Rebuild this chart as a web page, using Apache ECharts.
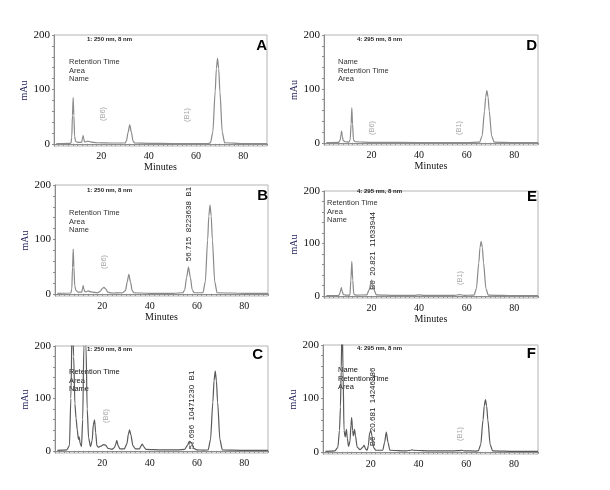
<!DOCTYPE html>
<html>
<head>
<meta charset="utf-8">
<script src="https://cdn.jsdelivr.net/npm/echarts@6/dist/echarts.min.js"></script>
<style>
  html, body { margin: 0; padding: 0; background: #fff; }
  #chart { width: 610px; height: 490px; }
</style>
</head>
<body>
<div id="chart"></div>
<script>
var chartDom = document.getElementById("chart");
var chart = echarts.init(chartDom, null, { renderer: "canvas" });

// tick labels
const xTickLabels = [20, 40, 60, 80];
const yTickLabels = [0, 100, 200];

// traces: [minutes, mAu]
const traceA = [[1,0.5],[6.8,1],[7.2,1.5],[7.5,12],[7.8,52],[8.1,85],[8.4,52],[8.7,14],[9.1,5],[9.8,3],[11.2,2.5],[11.7,3],[12,9],[12.3,15],[12.6,9],[12.9,4],[13.5,3.5],[14.3,5],[15.3,3.5],[18,2],[25,1.5],[29.2,1.5],[29.9,1.5],[30.6,5],[31.3,21],[32,35],[32.7,21],[33.4,5],[34.1,1.5],[40,1],[50,0.5],[65.2,0.5],[66.1,2],[67.1,21],[68.1,96],[68.6,138],[69.1,157],[69.6,138],[70.1,96],[71.1,21],[72.1,2],[80,0.5],[90,0.5]];
const traceB = [[1,1],[6.7,1.5],[7.1,8],[7.4,48],[7.7,82],[8,48],[8.35,14],[8.9,6],[9.8,3],[11.3,3],[11.6,9],[11.9,15],[12.2,9],[12.6,4],[13.2,3.5],[14,5.5],[15.2,3.5],[18,2],[19.2,5],[20,10],[20.7,12],[21.4,9],[22.3,3],[24,1.5],[28.5,2],[29.8,6],[30.5,22],[31.2,36],[31.9,22],[32.6,6],[33.3,2],[40,1],[50,1],[54,2],[54.8,7],[55.6,30],[56.4,49],[57.2,30],[58,7],[58.8,2],[61.5,2],[62.5,2],[63.5,22],[64.5,99],[65,143],[65.5,163],[66,143],[66.5,99],[67.5,22],[68.5,2],[80,1],[90,1]];
const traceC = [[1,1],[5,2],[6.1,10],[6.7,100],[7.3,260],[7.9,180],[8.4,90],[8.9,62],[9.4,40],[9.9,22],[10.2,27],[10.6,15],[11.2,8],[11.7,60],[12.2,200],[12.6,260],[13.1,200],[13.6,80],[14.2,25],[15,8],[15.7,20],[16.2,50],[16.7,59],[17.2,35],[17.7,10],[18.3,7],[19.3,9],[20.5,12],[21.4,11],[22.4,5],[24,3],[25.1,6],[25.6,12],[26.1,20],[26.7,10],[27.4,4],[29.3,4],[30.4,14],[31,32],[31.5,40],[32.1,30],[32.9,10],[34,4],[35.7,4],[36.3,9],[36.9,13],[37.5,8],[38.4,3],[45,2],[52,2],[54.8,3],[55.9,10],[56.8,18],[57.7,15],[58.6,5],[59.8,2],[63,1.5],[64.7,2],[65.7,21],[66.7,93],[67.2,134],[67.7,152],[68.2,134],[68.7,93],[69.7,21],[70.7,2],[80,1],[90,1]];
const traceD = [[1,0.5],[6.2,1],[6.8,5],[7.15,15],[7.4,22],[7.7,12],[8.1,4],[8.9,2],[10.4,1.5],[11,5],[11.4,35],[11.7,65],[12,35],[12.4,5],[13.1,2],[20,1],[40,0.5],[60,0.5],[65.5,1.5],[66.5,13],[67.5,59],[68,85],[68.5,97],[69,85],[69.5,59],[70.5,13],[71.5,1.5],[80,0.5],[90,0.5]];
const traceE = [[1,0.5],[6.2,1],[6.7,5],[7.05,12],[7.3,16],[7.6,9],[8.1,3],[9,1.5],[10.9,1.5],[11.3,30],[11.7,66],[12.1,30],[12.5,4],[13.3,1.5],[18,2],[19,12],[20,30],[21,12],[22,2],[30,1],[38,1],[40,2],[42,1],[55,1],[57,2.5],[59,1],[62.5,1.5],[63.1,1.5],[64.1,14],[65.1,63],[65.6,92],[66.1,104],[66.6,92],[67.1,63],[68.1,14],[69.1,1.5],[80,0.5],[90,0.5]];
const traceF = [[1,1],[5,2],[6.2,8],[6.9,40],[7.3,84],[7.6,150],[8,260],[8.4,150],[8.8,40],[9.3,28],[9.8,42],[10.2,25],[10.7,10],[11.3,20],[11.7,50],[12,64],[12.4,40],[12.7,30],[13.2,42],[13.6,30],[14.3,9],[15.5,4],[16.5,8],[17.2,12],[17.9,5],[18.5,3],[19,12],[19.5,35],[20,40],[20.5,30],[21.2,8],[22.1,3],[25,3],[25.8,18],[26.5,37],[27.2,18],[28,3],[35,2],[36.8,3],[37.3,4],[37.8,3],[45,2],[55,2],[57.5,2.5],[58,3],[59,2],[64,1.5],[65,2],[66,13],[67,60],[67.5,86],[68,98],[68.5,86],[69,60],[70,13],[71,2],[80,1],[90,1]];

// texts
const panelLetters = ["A", "B", "C", "D", "E", "F"];
const wavelengths = ["1: 250 nm, 8 nm", "1: 250 nm, 8 nm", "1: 250 nm, 8 nm", "4: 295 nm, 8 nm", "4: 295 nm, 8 nm", "4: 295 nm, 8 nm"];
const legendLinesRAN = ["Retention Time", "Area", "Name"];
const legendLinesNRA = ["Name", "Retention Time", "Area"];
const peakTagsB = ["(B6)", "56.715  8223638  B1"];
const peakTagsC = ["(B6)", "57.696  10471230  B1"];
const peakTagsE = ["B6  20.821  11633944", "(B1)"];
const peakTagsF = ["B6  20.681  14246886", "(B1)"];

// layout of the six panels (pixel positions)
var panels = [
  { data: traceA, left: 54, top: 35, width: 213, height: 111, dark: false, minutes: true,
    head: [87, 39], letter: [267, 46], legend: legendLinesRAN, legendPos: [69, 62],
    grey: [["(B6)", 103, 114], ["(B1)", 187, 115]], black: [] },
  { data: traceB, left: 55, top: 185, width: 213, height: 111, dark: false, minutes: true,
    head: [87, 190], letter: [268, 196], legend: legendLinesRAN, legendPos: [69, 213],
    grey: [[peakTagsB[0], 104, 262]], black: [[peakTagsB[1], 189, 224]] },
  { data: traceC, left: 55, top: 346, width: 213, height: 107, dark: true, minutes: false,
    head: [87, 349], letter: [263, 355], legend: legendLinesRAN, legendPos: [69, 372],
    grey: [[peakTagsC[0], 106, 416]], black: [[peakTagsC[1], 192, 410]] },
  { data: traceD, left: 324, top: 35, width: 214, height: 110, dark: false, minutes: true,
    head: [357, 39], letter: [537, 46], legend: legendLinesNRA, legendPos: [338, 62],
    grey: [["(B6)", 372, 128], ["(B1)", 459, 128]], black: [] },
  { data: traceE, left: 324, top: 191, width: 214, height: 107, dark: false, minutes: true,
    head: [357, 191], letter: [537, 197], legend: legendLinesRAN, legendPos: [327, 203],
    grey: [[peakTagsE[1], 460, 278]], black: [[peakTagsE[0], 373, 251]] },
  { data: traceF, left: 323, top: 345, width: 215, height: 109, dark: true, minutes: false,
    head: [357, 348], letter: [536, 354], legend: legendLinesNRA, legendPos: [338, 370],
    grey: [[peakTagsF[1], 460, 434]], black: [[peakTagsF[0], 373, 407]] },
];

var xMinorTicks = [];
for (let v = 0; v <= 90; v += 2) xMinorTicks.push(v);
var yMinorTicks = [];
for (let v = 0; v <= 200; v += 20) yMinorTicks.push(v);

var grids = [], xAxes = [], yAxes = [], series = [], graphics = [];

panels.forEach(function (p, i) {
  grids.push({
    left: p.left, top: p.top, width: p.width, height: p.height,
    show: true, borderColor: "#b4b4b4", borderWidth: 1,
  });
  xAxes.push({
    type: "value", gridIndex: i, min: 0, max: 90,
    axisLine: { lineStyle: { color: "#8c8c8c" } },
    axisTick: { customValues: xMinorTicks, length: 2, lineStyle: { color: "#8c8c8c" } },
    axisLabel: { customValues: xTickLabels, color: "#111", fontFamily: "Liberation Serif", fontSize: 10, margin: 5 },
    splitLine: { show: false },
    name: p.minutes ? "Minutes" : "",
    nameLocation: "middle", nameGap: 16,
    nameTextStyle: { color: "#111", fontFamily: "Liberation Serif", fontSize: 10 },
  });
  yAxes.push({
    type: "value", gridIndex: i, min: -4, max: 200,
    axisLine: { show: true, lineStyle: { color: "#8c8c8c" } },
    axisTick: { customValues: yMinorTicks, length: 2, lineStyle: { color: "#8c8c8c" } },
    axisLabel: { customValues: yTickLabels, color: "#111", fontFamily: "Liberation Serif", fontSize: 11, margin: 4 },
    splitLine: { show: false },
    name: "mAu", nameLocation: "middle", nameGap: 24,
    nameTextStyle: { color: "#1c1c55", fontFamily: "Liberation Serif", fontSize: 10 },
  });
  series.push({
    type: "line", xAxisIndex: i, yAxisIndex: i,
    data: p.data, showSymbol: false, smooth: 0.25, smoothMonotone: "x",
    lineStyle: { color: p.dark ? "#5a5a5a" : "#8a8a8a", width: 1.2 },
    clip: true,
  });

  // header texts
  graphics.push({
    type: "text", x: p.head[0], y: p.head[1],
    style: { text: wavelengths[i], fontSize: 6, fontWeight: "bold", fontFamily: "Liberation Sans", fill: "#222", verticalAlign: "middle" },
  });
  graphics.push({
    type: "text", x: p.letter[0], y: p.letter[1],
    style: { text: panelLetters[i], fontSize: 15, fontWeight: "bold", fontFamily: "Liberation Sans", fill: "#000", align: "right", verticalAlign: "middle" },
  });
  p.legend.forEach(function (line, k) {
    graphics.push({
      type: "text", x: p.legendPos[0], y: p.legendPos[1] + k * 8.7,
      style: { text: line, fontSize: 7.5, fontFamily: "Liberation Sans", fill: p.dark ? "#111" : "#333", verticalAlign: "middle" },
    });
  });
  p.grey.forEach(function (g) {
    graphics.push({
      type: "text", x: g[1], y: g[2], rotation: Math.PI / 2,
      style: { text: g[0], fontSize: 7.5, fontFamily: "Liberation Sans", fill: "#aaa", align: "center", verticalAlign: "middle" },
    });
  });
  p.black.forEach(function (g) {
    graphics.push({
      type: "text", x: g[1], y: g[2], rotation: Math.PI / 2,
      style: { text: g[0], fontSize: 8, fontFamily: "Liberation Sans", fill: "#222", align: "center", verticalAlign: "middle" },
    });
  });
});

var option = {
  animation: false,
  backgroundColor: "#fff",
  grid: grids,
  xAxis: xAxes,
  yAxis: yAxes,
  series: series,
  graphic: graphics,
};

chart.setOption(option);
</script>
</body>
</html>
